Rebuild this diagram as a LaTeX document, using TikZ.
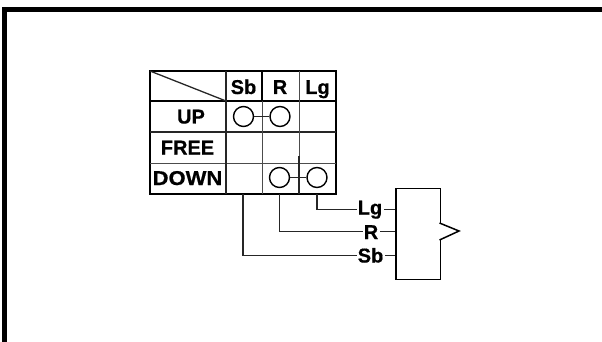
\documentclass[tikz,border=0pt]{standalone}
\usepackage{graphicx}
\usepackage{fontspec}
\setmainfont[BoldFeatures={FakeBold=0.6}]{Liberation Sans}
\tikzset{
  x=1pt,y=-1pt,
  lab/.style={font=\fontsize{20}{20}\selectfont\bfseries,inner sep=0pt,text=black,anchor=base},
  ring/.style={circle,draw=black,line width=1.4pt,minimum size=20pt,inner sep=0pt},
  wire/.style={draw=black!85,line width=1.3pt},
  grid/.style={draw=black!85,line width=1.3pt},
  thin grid/.style={draw=black!70,line width=1pt},
  heavy/.style={draw=black,line width=1.8pt},
}
\begin{document}
\begin{tikzpicture}
\useasboundingbox (0,0) rectangle (602,342);
% outer frame
\draw[draw=black,line width=4.5pt] (4.5,342) -- (4.5,9.5) -- (602,9.5);
% table
\coordinate (tl) at (150,71); \coordinate (br) at (336,194);
\draw[heavy] (tl) rectangle (br);
\draw[heavy] (150,101) -- (336,101);
\draw[grid] (150,132) -- (336,132);
\draw[thin grid] (150,163) -- (336,163);
\draw[grid] (226,71) -- (226,194);
\draw[heavy] (262,71) -- (262,101);
\draw[thin grid] (262,101) -- (262,194);
\draw[thin grid] (299,71) -- (299,163);
\draw[grid] (299,156) -- (299,194);
\draw[grid] (150,71) -- (226,101);
% headers
\node[lab] (hSb) at (243.5,94) {Sb};
\node[lab] (hR) at (280,94) {R};
\node[lab] (hLg) at (317.5,94) {Lg};
\node[lab] (up) at (191,123.5) {UP};
\node[lab] (free) at (187.5,154.5) {FREE};
\node[lab] (down) at (187.5,185) {\scalebox{1.1}[1]{DOWN}};
% rings
\node[ring] (u1) at (243.5,116.5) {};
\node[ring] (u2) at (280,116.5) {};
\node[ring] (d1) at (279.5,177.5) {};
\node[ring] (d2) at (317,177.5) {};
\draw[wire] (u1) -- (u2);
\draw[wire] (d1) -- (d2);
% block
\node[draw=black,line width=1.5pt,minimum width=44.5pt,minimum height=91pt,inner sep=0pt,anchor=north west] (box) at (395,187.5) {};
\coordinate (n1) at (439.5,223);
\coordinate (tip) at (459,231);
\coordinate (n2) at (439.5,240);
\fill[white] (438,223.5) rectangle (441,239.5);
\draw[draw=black,line width=1.5pt,line join=miter] (n1) -- (tip) -- (n2);
% labels
\node[lab] (Lg) at (370,214.5) {Lg};
\node[lab] (R) at (371,239) {R};
\node[lab] (Sb) at (370.5,262.5) {Sb};
\coordinate (bSb) at (243,194);
\coordinate (bR) at (279.5,194);
\coordinate (bLg) at (317,194);
\draw[wire] (bLg) |- ([xshift=-1pt]Lg.west|-0,209.5);
\draw[wire] (bR) |- ([xshift=-1pt]R.west|-0,231.5);
\draw[wire] (bSb) |- ([xshift=-1pt]Sb.west|-0,255.5);
\draw[wire] ([xshift=2pt]Lg.east|-0,209.5) -- (box.west|-0,209.5);
\draw[wire] ([xshift=2pt]R.east|-0,231.5) -- (box.west|-0,231.5);
\draw[wire] ([xshift=2pt]Sb.east|-0,255.5) -- (box.west|-0,255.5);
\end{tikzpicture}
\end{document}
